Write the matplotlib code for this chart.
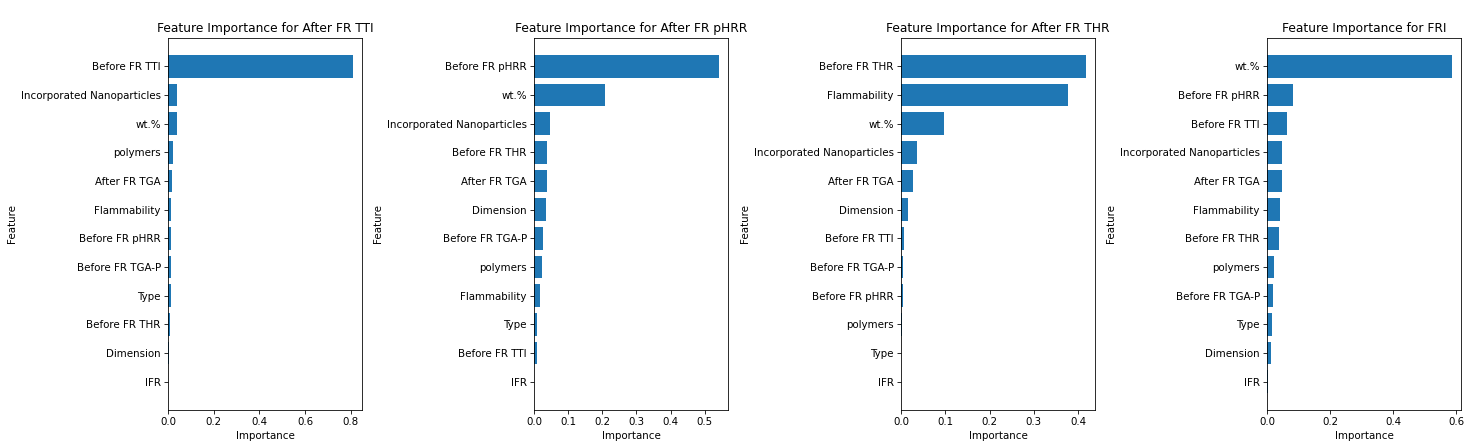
import matplotlib
matplotlib.use('Agg')
import matplotlib.pyplot as plt

# feature importances, listed top to bottom as shown
titles = ['After FR TTI', 'After FR pHRR', 'After FR THR', 'FRI']

feat_tti = ['Before FR TTI', 'Incorporated Nanoparticles', 'wt.%', 'polymers',
            'After FR TGA', 'Flammability', 'Before FR pHRR', 'Before FR TGA-P',
            'Type', 'Before FR THR', 'Dimension', 'IFR']
imp_tti = [0.809, 0.038, 0.038, 0.020, 0.018, 0.013, 0.013, 0.013, 0.013, 0.009, 0.006, 0.0]

feat_phrr = ['Before FR pHRR', 'wt.%', 'Incorporated Nanoparticles', 'Before FR THR',
             'After FR TGA', 'Dimension', 'Before FR TGA-P', 'polymers',
             'Flammability', 'Type', 'Before FR TTI', 'IFR']
imp_phrr = [0.541, 0.208, 0.046, 0.037, 0.037, 0.034, 0.026, 0.022, 0.017, 0.010, 0.010, 0.0]

feat_thr = ['Before FR THR', 'Flammability', 'wt.%', 'Incorporated Nanoparticles',
            'After FR TGA', 'Dimension', 'Before FR TTI', 'Before FR TGA-P',
            'Before FR pHRR', 'polymers', 'Type', 'IFR']
imp_thr = [0.417, 0.377, 0.098, 0.036, 0.026, 0.016, 0.007, 0.0045, 0.0045, 0.002, 0.0, 0.0]

feat_fri = ['wt.%', 'Before FR pHRR', 'Before FR TTI', 'Incorporated Nanoparticles',
            'After FR TGA', 'Flammability', 'Before FR THR', 'polymers',
            'Before FR TGA-P', 'Type', 'Dimension', 'IFR']
imp_fri = [0.586, 0.084, 0.063, 0.049, 0.047, 0.041, 0.037, 0.022, 0.020, 0.015, 0.012, 0.004]

feats = [feat_tti, feat_phrr, feat_thr, feat_fri]
imps = [imp_tti, imp_phrr, imp_thr, imp_fri]

W, H = 1468, 448
dpi = 73.4
fig = plt.figure(figsize=(W/dpi, H/dpi), dpi=dpi)
lefts = [168, 534, 901, 1267]
for i in range(4):
    ax = fig.add_axes([lefts[i]/W, 38/H, 194/W, 372/H])
    ax.barh(feats[i], imps[i], color='#1f77b4')
    ax.invert_yaxis()
    ax.set_title('Feature Importance for ' + titles[i])
    ax.set_xlabel('Importance')
    ax.set_ylabel('Feature')

fig.savefig('out.png', dpi=dpi)
